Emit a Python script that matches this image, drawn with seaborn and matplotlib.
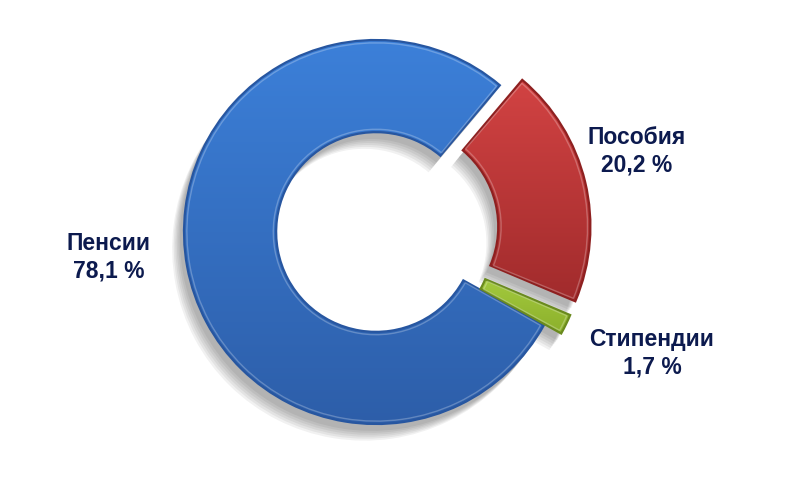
import matplotlib
matplotlib.use('Agg')
import matplotlib.pyplot as plt
import matplotlib.patheffects as pe
from matplotlib.patches import Wedge
from matplotlib.colors import LinearSegmentedColormap
import seaborn as sns
import numpy as np

# данные
labels = ['Пенсии', 'Пособия', 'Стипендии']
values = [78.1, 20.2, 1.7]
top_colors = ['#3c80d9', '#d24343', '#b4dc4a']
bottom_colors = ['#2d5ea9', '#a12b2c', '#8cb02c']
edges = ['#2756a0', '#8e2020', '#6a8a1e']
explode = [0.0, 0.12, 0.1]
# положение подписей: (угол, расстояние от центра)
label_pos = [(185.3, 1.40), (17.2, 1.42), (-23.7, 1.57)]

sns.set_theme(style='white')
plt.rcParams['font.family'] = ['Liberation Sans', 'DejaVu Sans']

fig = plt.figure(figsize=(8, 5), dpi=100)
ax = fig.add_axes([0, 0, 1, 1])

wedges, _ = ax.pie(values, colors=bottom_colors, explode=explode, startangle=331,
                   counterclock=False, radius=1.0,
                   wedgeprops=dict(width=0.48, linewidth=0))

# тени
shadow = [pe.SimplePatchShadow(offset=(-3 - 1.1 * k, -5 - 1.4 * k),
                               shadow_rgbFace='black', alpha=0.055)
          for k in range(6)]

grad = np.linspace(0, 1, 256).reshape(-1, 1)
for w, c1, c2, ec in zip(wedges, top_colors, bottom_colors, edges):
    w.set_path_effects(shadow + [pe.Normal()])
    w.set_zorder(1)
    v = w.get_path().vertices
    x0, x1 = v[:, 0].min(), v[:, 0].max()
    y0, y1 = v[:, 1].min(), v[:, 1].max()
    cmap = LinearSegmentedColormap.from_list('g', [c2, c1])
    im = ax.imshow(grad, cmap=cmap, extent=(x0, x1, y0, y1), origin='lower',
                   aspect='auto', zorder=2, interpolation='bilinear')
    im.set_clip_path(w)
    # контур
    ax.add_patch(Wedge(w.center, w.r, w.theta1, w.theta2, width=w.width,
                       facecolor='none', edgecolor=ec, linewidth=1.6, zorder=3))
    ax.add_patch(Wedge(w.center, w.r - 0.015, w.theta1 + 0.6, w.theta2 - 0.6,
                       width=w.width - 0.03, facecolor='none', edgecolor='white',
                       alpha=0.25, linewidth=1.0, zorder=3))

# подписи
for lab, val, (ang, d) in zip(labels, values, label_pos):
    a = np.deg2rad(ang)
    txt = f'{lab}\n{val:.1f} %'.replace('.', ',')
    ax.text(d * np.cos(a), d * np.sin(a), txt, ha='center', va='center',
            fontsize=16.5, fontweight='bold', color='#0c1a4e', linespacing=1.25)

ax.set_xlim(-376 / 192, (800 - 376) / 192)
ax.set_ylim(-(500 - 232) / 192, 232 / 192)
ax.set_aspect('equal')
ax.axis('off')

fig.savefig('out.png', dpi=100)
